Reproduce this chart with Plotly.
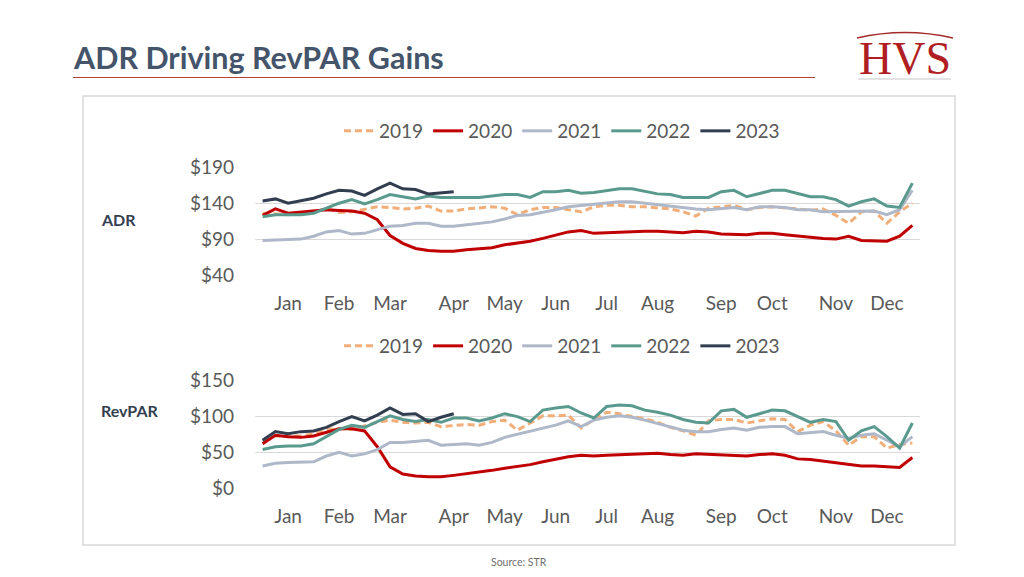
import plotly.graph_objects as go

W, H = 1024, 577

weeks = list(range(52))
month_labels = ["Jan", "Feb", "Mar", "Apr", "May", "Jun", "Jul", "Aug", "Sep", "Oct", "Nov", "Dec"]
month_weeks = [2, 6, 10, 15, 19, 23, 27, 31, 36, 40, 45, 49]

years = ["2019", "2020", "2021", "2022", "2023"]

adr_2019 = [126,125,124,125,127,133,127,128,132,135,134,132,133,136,129,129,132,133,
            135,133,124,131,134,134,131,128,135,137,137,135,135,134,132,128,122,
            133,135,137,131,134,135,134,132,130,132,123,112,128,129,112,128,140]
adr_2020 = [123,132,126,128,130,131,130,129,126,117,95,84,77,74,73,73,
            75,76,78,82,84,87,91,95,100,102,98,99,100,101,101,101,100,99,101,
            100,97,96,96,98,98,96,94,92,91,90,94,88,87,87,94,109]
adr_2021 = [88,89,89,90,94,100,102,97,98,103,108,109,112,112,108,108,
            110,112,114,118,123,124,127,131,135,137,139,141,142,142,140,137,135,133,132,
            131,133,134,131,135,135,134,131,131,128,128,129,129,129,124,131,158]
adr_2022 = [121,124,124,124,126,133,140,145,139,145,152,149,146,150,148,148,
            148,148,150,152,152,148,156,156,158,154,155,158,160,160,156,153,152,148,148,
            148,156,158,149,154,158,158,154,149,149,145,136,142,146,136,134,168]
adr_2023 = [143,146,140,143,147,153,158,157,151,160,168,160,159,153,155,156]

rev_2019 = [66,73,73,73,76,82,83,82,87,92,95,92,91,92,86,88,89,
            88,93,95,81,91,101,101,102,84,96,106,104,100,97,92,85,80,74,
            94,96,96,91,94,97,96,79,88,93,80,60,72,72,56,61,63]
rev_2020 = [62,74,72,71,73,78,83,83,80,58,30,20,17,16,16,18,
            20,22,25,28,30,33,37,41,44,46,45,46,47,48,49,49,47,46,48,
            47,46,46,45,47,48,46,41,40,38,35,33,31,31,30,29,43]
rev_2021 = [31,35,36,36,37,45,50,45,48,54,64,64,66,67,60,61,62,
            60,64,71,75,79,84,88,94,86,95,99,101,99,95,90,86,81,79,
            79,82,84,81,85,86,86,76,77,79,74,70,74,76,67,58,72]
rev_2022 = [54,58,59,59,62,72,82,88,85,93,101,96,93,96,92,98,98,94,
            98,104,100,93,109,112,114,105,98,114,116,115,109,106,102,96,92,
            91,108,110,99,104,109,108,100,92,96,93,67,80,86,72,56,91]
rev_2023 = [67,79,76,79,80,85,93,100,94,102,112,103,104,93,99,104]

adr_ticks = [40, 90, 140, 190]
adr_ticktext = ["&#36;40", "&#36;90", "&#36;140", "&#36;190"]
rev_ticks = [0, 50, 100, 150]
rev_ticktext = ["&#36;0", "&#36;50", "&#36;100", "&#36;150"]

colors = {"2019": "#F2AE78", "2020": "#C00000", "2021": "#AEB8C9",
          "2022": "#5A9A8E", "2023": "#323E4F"}
dashes = {"2019": "7px,4px"}

FONT = "Lato"
TXT = "#595959"

def px_x(p):
    return p / W

def px_y(p):
    return 1 - p / H

fig = go.Figure()

adr_series = [adr_2019, adr_2020, adr_2021, adr_2022, adr_2023]
rev_series = [rev_2019, rev_2020, rev_2021, rev_2022, rev_2023]

for yr, vals in zip(years, adr_series):
    fig.add_trace(go.Scatter(
        x=weeks[:len(vals)], y=vals, mode="lines", name=yr,
        line=dict(color=colors[yr], width=3, dash=dashes.get(yr, "solid")),
        xaxis="x", yaxis="y", legend="legend"))

for yr, vals in zip(years, rev_series):
    fig.add_trace(go.Scatter(
        x=weeks[:len(vals)], y=vals, mode="lines", name=yr,
        line=dict(color=colors[yr], width=3, dash=dashes.get(yr, "solid")),
        xaxis="x2", yaxis="y2", legend="legend2"))

xdom = [px_x(255), px_x(920)]
xcommon = dict(range=[-0.6, 51.6], tickmode="array", tickvals=month_weeks,
               ticktext=month_labels, showgrid=False, zeroline=False, automargin=False,
               showline=False, ticks="", tickfont=dict(family=FONT, size=19, color=TXT),
               ticklabelstandoff=14, domain=xdom)
ycommon = dict(showgrid=True, gridcolor="#D9D9D9", gridwidth=1, zeroline=False,
               showline=False, ticks="", tickmode="array", automargin=False,
               tickfont=dict(family=FONT, size=19, color=TXT), ticklabelstandoff=20)

fig.update_layout(
    width=W, height=H,
    margin=dict(l=0, r=0, t=0, b=0, pad=0, autoexpand=False),
    paper_bgcolor="white", plot_bgcolor="white",
    xaxis=dict(xcommon, anchor="y"),
    yaxis=dict(ycommon, range=[39, 191], tickvals=adr_ticks, ticktext=adr_ticktext,
               domain=[px_y(275.7), px_y(166.6)], anchor="x"),
    xaxis2=dict(xcommon, anchor="y2"),
    yaxis2=dict(ycommon, range=[-1, 151], tickvals=rev_ticks, ticktext=rev_ticktext,
                domain=[px_y(489), px_y(380)], anchor="x2"),
    legend=dict(orientation="h", x=px_x(562), y=px_y(131), xanchor="center", yanchor="middle",
                font=dict(family=FONT, size=19, color=TXT), bgcolor="rgba(0,0,0,0)",
                itemwidth=30, tracegroupgap=0),
    legend2=dict(orientation="h", x=px_x(562), y=px_y(346), xanchor="center", yanchor="middle",
                 font=dict(family=FONT, size=19, color=TXT), bgcolor="rgba(0,0,0,0)",
                 itemwidth=30, tracegroupgap=0),
    showlegend=True,
)

shapes = [
    # chart frame
    dict(type="rect", xref="paper", yref="paper", x0=px_x(83), x1=px_x(955),
         y0=px_y(545), y1=px_y(96), line=dict(color="#D9D9D9", width=1.5), layer="below"),
    # title underline
    dict(type="line", xref="paper", yref="paper", x0=px_x(73), x1=px_x(815),
         y0=px_y(77.5), y1=px_y(77.5), line=dict(color="#B8403C", width=1.2)),
    # logo arc
    dict(type="path", xref="paper", yref="paper",
         path="M {},{} Q {},{} {},{}".format(px_x(857), px_y(38), px_x(905), px_y(27), px_x(953), px_y(38)),
         line=dict(color="#A52A2A", width=1.5)),
    # logo base line
    dict(type="line", xref="paper", yref="paper", x0=px_x(858), x1=px_x(951),
         y0=px_y(79), y1=px_y(79), line=dict(color="#C8C8C8", width=1)),
]

annotations = [
    dict(text="<b>ADR Driving RevPAR Gains</b>", xref="paper", yref="paper",
         x=px_x(71), y=px_y(57), xanchor="left", yanchor="middle", showarrow=False,
         font=dict(family=FONT, size=30.5, color="#44546A")),
    dict(text="HVS", xref="paper", yref="paper", x=px_x(905), y=px_y(58),
         xanchor="center", yanchor="middle", showarrow=False,
         font=dict(family="Liberation Serif", size=46, color="#B01E23")),
    dict(text="<b>ADR</b>", xref="paper", yref="paper", x=px_x(99), y=px_y(219),
         xanchor="left", yanchor="middle", showarrow=False,
         font=dict(family=FONT, size=16, color="#333F50")),
    dict(text="<b>RevPAR</b>", xref="paper", yref="paper", x=px_x(99), y=px_y(410),
         xanchor="left", yanchor="middle", showarrow=False,
         font=dict(family=FONT, size=16, color="#333F50")),
    dict(text="Source: STR", xref="paper", yref="paper", x=px_x(519), y=px_y(562),
         xanchor="center", yanchor="middle", showarrow=False,
         font=dict(family=FONT, size=10.5, color="#6F6F6F")),
]

fig.update_layout(shapes=shapes, annotations=annotations)

fig.write_html("out.html", config={"displayModeBar": False},
               post_script="document.body.style.margin='0';")
